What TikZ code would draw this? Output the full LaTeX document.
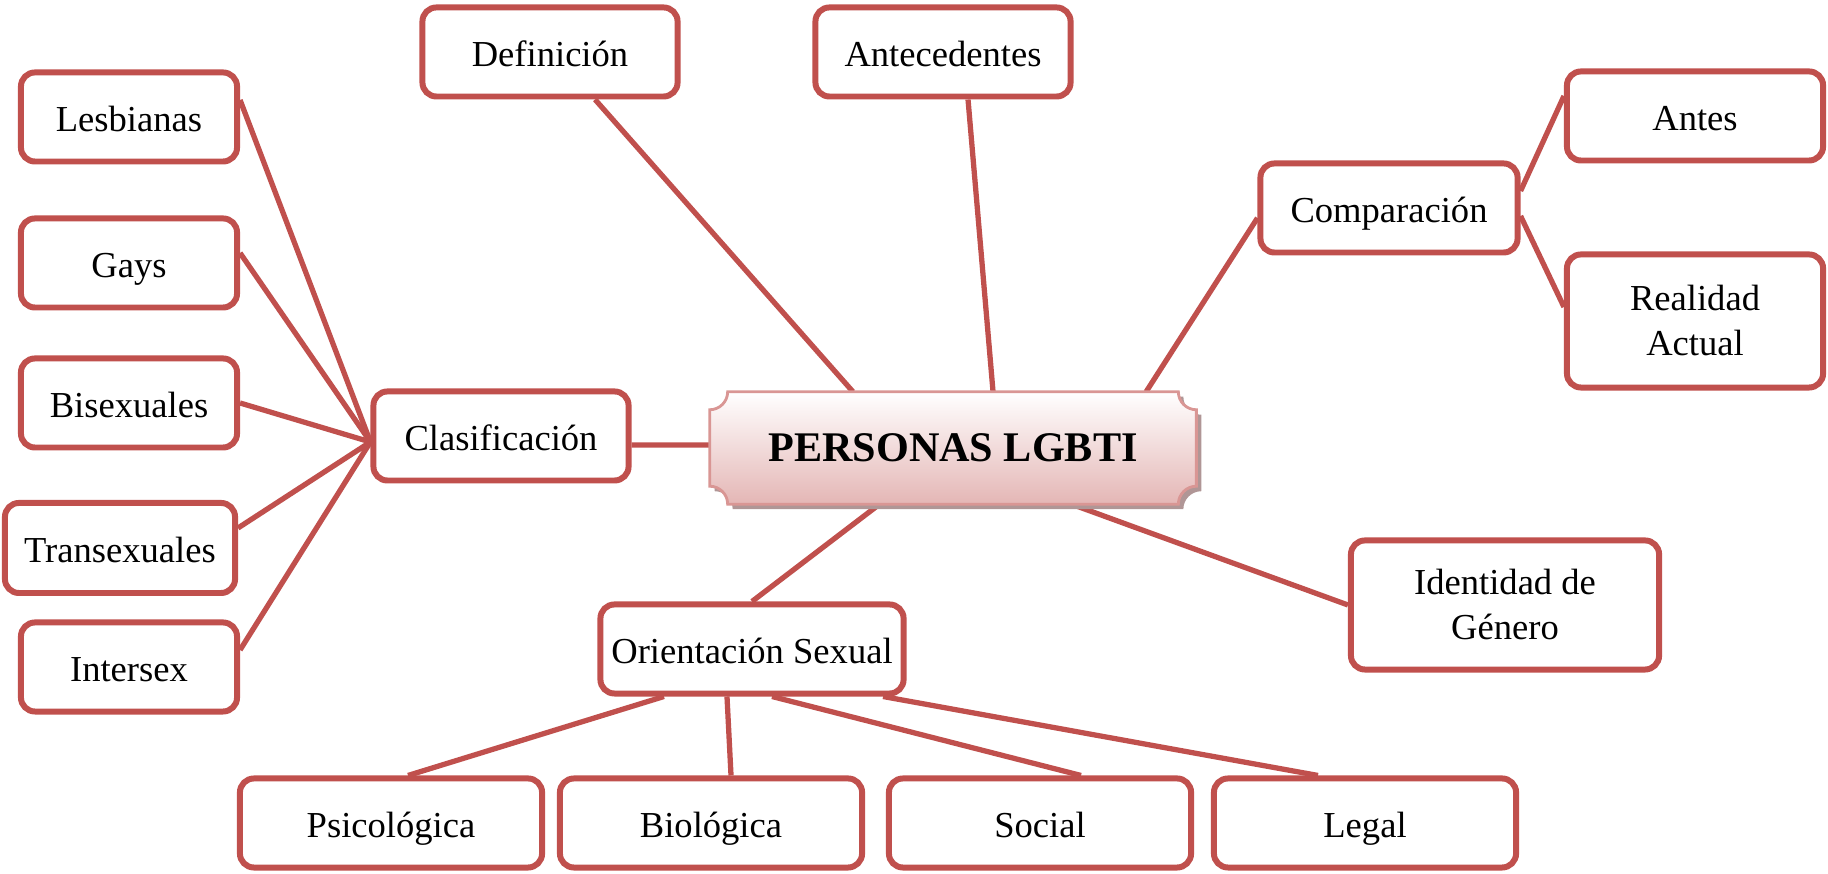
\documentclass[tikz,border=0pt]{standalone}
\usepackage{fontspec}
\setmainfont{Liberation Serif}
\usetikzlibrary{backgrounds}
\definecolor{boxred}{HTML}{C0504D}
\definecolor{plaqueedge}{HTML}{D99694}
\definecolor{plaquepink}{HTML}{E4B6B5}
\definecolor{plaqueshadow}{RGB}{176,150,150}

\begin{document}
\begin{tikzpicture}[x=0.01cm,y=0.01cm,
    box/.style={draw=boxred,line width=1.7pt,rounded corners=0.14cm,fill=white,
      align=center,inner sep=0pt,minimum width=2.55cm,minimum height=0.89cm,
      text height=1.9ex,text depth=0.15ex,
      font=\fontsize{10.4}{12.8}\selectfont},
    twolines/.style={text height={},text depth={}},
    link/.style={draw=boxred,line width=1.5pt}]

\useasboundingbox (0,0) rectangle (1828,874);

% main node
\node[minimum width=4.85cm,minimum height=1.11cm,inner sep=0pt,
  font=\bfseries\fontsize{12}{14}\selectfont] (lgbti) at (953,426) {PERSONAS LGBTI};

% top
\node[box] (def) at (550,822) {Definición};
\node[box] (ante) at (943,822) {Antecedentes};

% left side
\node[box] (clas) at (501,438) {Clasificación};
\node[box,minimum width=2.16cm] (lesb) at (129,757) {Lesbianas};
\node[box,minimum width=2.16cm] (gays) at (129,611) {Gays};
\node[box,minimum width=2.16cm] (bisex) at (129,471) {Bisexuales};
\node[box,minimum width=2.30cm,minimum height=0.9cm] (trans) at (120,326) {Transexuales};
\node[box,minimum width=2.16cm] (inter) at (129,207) {Intersex};

% right side
\node[box,minimum width=2.57cm] (comp) at (1389,666) {Comparación};
\node[box,minimum width=2.56cm] (antes) at (1695,758) {Antes};
\node[box,twolines,minimum width=2.56cm,minimum height=1.33cm] (real) at (1695,553) {Realidad\\Actual};
\node[box,twolines,minimum width=3.08cm,minimum height=1.29cm] (ident) at (1505,269) {Identidad de\\Género};

% bottom
\node[box,minimum width=3.03cm] (orient) at (752,225) {Orientación Sexual};
\node[box,minimum width=3.02cm] (psic) at (391,51) {Psicológica};
\node[box,minimum width=3.02cm] (biol) at (711,51) {Biológica};
\node[box,minimum width=3.02cm] (soc) at (1040,51) {Social};
\node[box,minimum width=3.02cm] (legal) at (1365,51) {Legal};

\begin{scope}[on background layer]
  \draw[link] ([xshift=0.45cm]def.south) -- ([xshift=-1.0cm]lgbti.north);
  \draw[link] ([xshift=0.25cm]ante.south) -- ([xshift=0.4cm]lgbti.north);
  \draw[link] ([xshift=1.93cm]lgbti.north) -- ([yshift=-0.1cm]comp.west);
  \draw[link] ([yshift=0.17cm]comp.east) -- ([yshift=0.2cm]antes.west);
  \draw[link] ([yshift=-0.08cm]comp.east) -- ([yshift=0.14cm]real.west);
  \draw[link] ([yshift=-0.09cm]clas.east) -- ([yshift=0.03cm]lgbti.west);
  \foreach \leaf/\dy in {lesb/0.17,gays/0.10,bisex/0,trans/0.20,inter/0.17}
    \draw[link] ([yshift=\dy cm]\leaf.east) -- ([yshift=-0.06cm]clas.west);
  \draw[link] ([xshift=-0.735cm]lgbti.south) -- (orient.north);
  \draw[link] ([xshift=1.185cm]lgbti.south) -- (ident.west);
  \draw[link] ([xshift=-0.88cm]orient.south) -- ([xshift=0.17cm]psic.north);
  \draw[link] ([xshift=-0.25cm]orient.south) -- ([xshift=0.2cm]biol.north);
  \draw[link] ([xshift=0.2cm]orient.south) -- ([xshift=0.41cm]soc.north);
  \draw[link] ([xshift=1.31cm]orient.south) -- ([xshift=-0.47cm]legal.north);

  % plaque round the main node
  \draw[draw=plaqueedge,line width=0.8pt,top color=white,bottom color=plaquepink,
    preaction={fill=plaqueshadow,transform canvas={shift={(0.05cm,-0.05cm)}}}]
    ([xshift=0.18cm]lgbti.north west) -- ([xshift=-0.18cm]lgbti.north east)
    arc[start angle=180,end angle=270,radius=0.18cm]
    -- ([yshift=0.18cm]lgbti.south east)
    arc[start angle=90,end angle=180,radius=0.18cm]
    -- ([xshift=0.18cm]lgbti.south west)
    arc[start angle=0,end angle=90,radius=0.18cm]
    -- ([yshift=-0.18cm]lgbti.north west)
    arc[start angle=270,end angle=360,radius=0.18cm] -- cycle;
\end{scope}
\end{tikzpicture}
\end{document}
